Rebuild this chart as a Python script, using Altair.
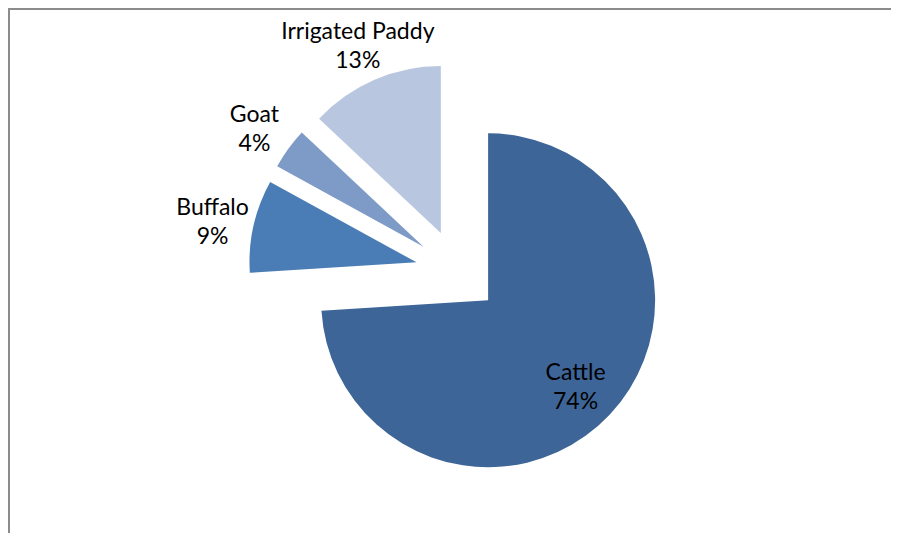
import math
import altair as alt
import pandas as pd

# ---- data ----
categories = ["Cattle", "Buffalo", "Goat", "Irrigated Paddy"]
values = [74, 9, 4, 13]
colors = ["#3D6597", "#4A7DB5", "#7E9BC8", "#B8C6DF"]

# ---- layout constants ----
W, H = 883, 525
CX, CY = 449.5, 263.5       # pie origin inside the plot
R = 167                     # pie radius
EXPLODE = 42                # slice explosion distance
R_OUT = 209                 # label radius for outside labels
R_IN = 120                  # label radius for inside label
FONT = "Lato"
FS = 23
LH = 29

total = sum(values)
rows = []
acc = 0
for i, (c, v) in enumerate(zip(categories, values)):
    start, end = acc, acc + v
    acc = end
    mid = (start + end) / 2
    ang = mid / total * 2 * math.pi
    rows.append({
        "category": c,
        "value": v,
        "order": i,
        "start": start,
        "end": end,
        "mid": mid,
        "cx": CX + EXPLODE * math.sin(ang),
        "cy": CY - EXPLODE * math.cos(ang),
        "label": f"{c}\n{round(v / total * 100)}%",
    })
df = pd.DataFrame(rows)

theta_scale = alt.Scale(domain=[0, total], range=[0, 2 * math.pi])
xpos = alt.X("cx:Q", scale=None, axis=None)
ypos = alt.Y("cy:Q", scale=None, axis=None)

base = alt.Chart(df)

arcs = base.mark_arc(outerRadius=R).encode(
    theta=alt.Theta("start:Q", scale=theta_scale, stack=None),
    theta2="end:Q",
    x=xpos,
    y=ypos,
    color=alt.Color("category:N", scale=alt.Scale(domain=categories, range=colors), legend=None),
)

text_style = dict(font=FONT, fontSize=FS, lineBreak="\n", lineHeight=LH,
                  align="center", baseline="middle", color="#000000", dy=-9)

labels_out = base.transform_filter(alt.datum.category != "Cattle").mark_text(
    radius=R_OUT, **text_style
).encode(
    theta=alt.Theta("mid:Q", scale=theta_scale, stack=None),
    x=xpos,
    y=ypos,
    text="label:N",
)

labels_in = base.transform_filter(alt.datum.category == "Cattle").mark_text(
    radius=R_IN, **text_style
).encode(
    theta=alt.Theta("mid:Q", scale=theta_scale, stack=None),
    x=xpos,
    y=ypos,
    text="label:N",
)

frame_df = pd.DataFrame({"k": [0]})
left_border = alt.Chart(frame_df).mark_rule(color="#8C8C8C", strokeWidth=2).encode(
    x=alt.value(1), y=alt.value(0), y2=alt.value(H)
)
top_border = alt.Chart(frame_df).mark_rule(color="#8C8C8C", strokeWidth=2).encode(
    x=alt.value(0), x2=alt.value(W), y=alt.value(1)
)

chart = alt.layer(arcs, labels_out, labels_in, left_border, top_border).properties(
    width=W, height=H, padding=0, autosize=alt.AutoSizeParams(type="none"),
    background="#FFFFFF",
).configure_view(stroke=None)

chart.save("out.html", embed_options={"renderer": "svg", "actions": False})
